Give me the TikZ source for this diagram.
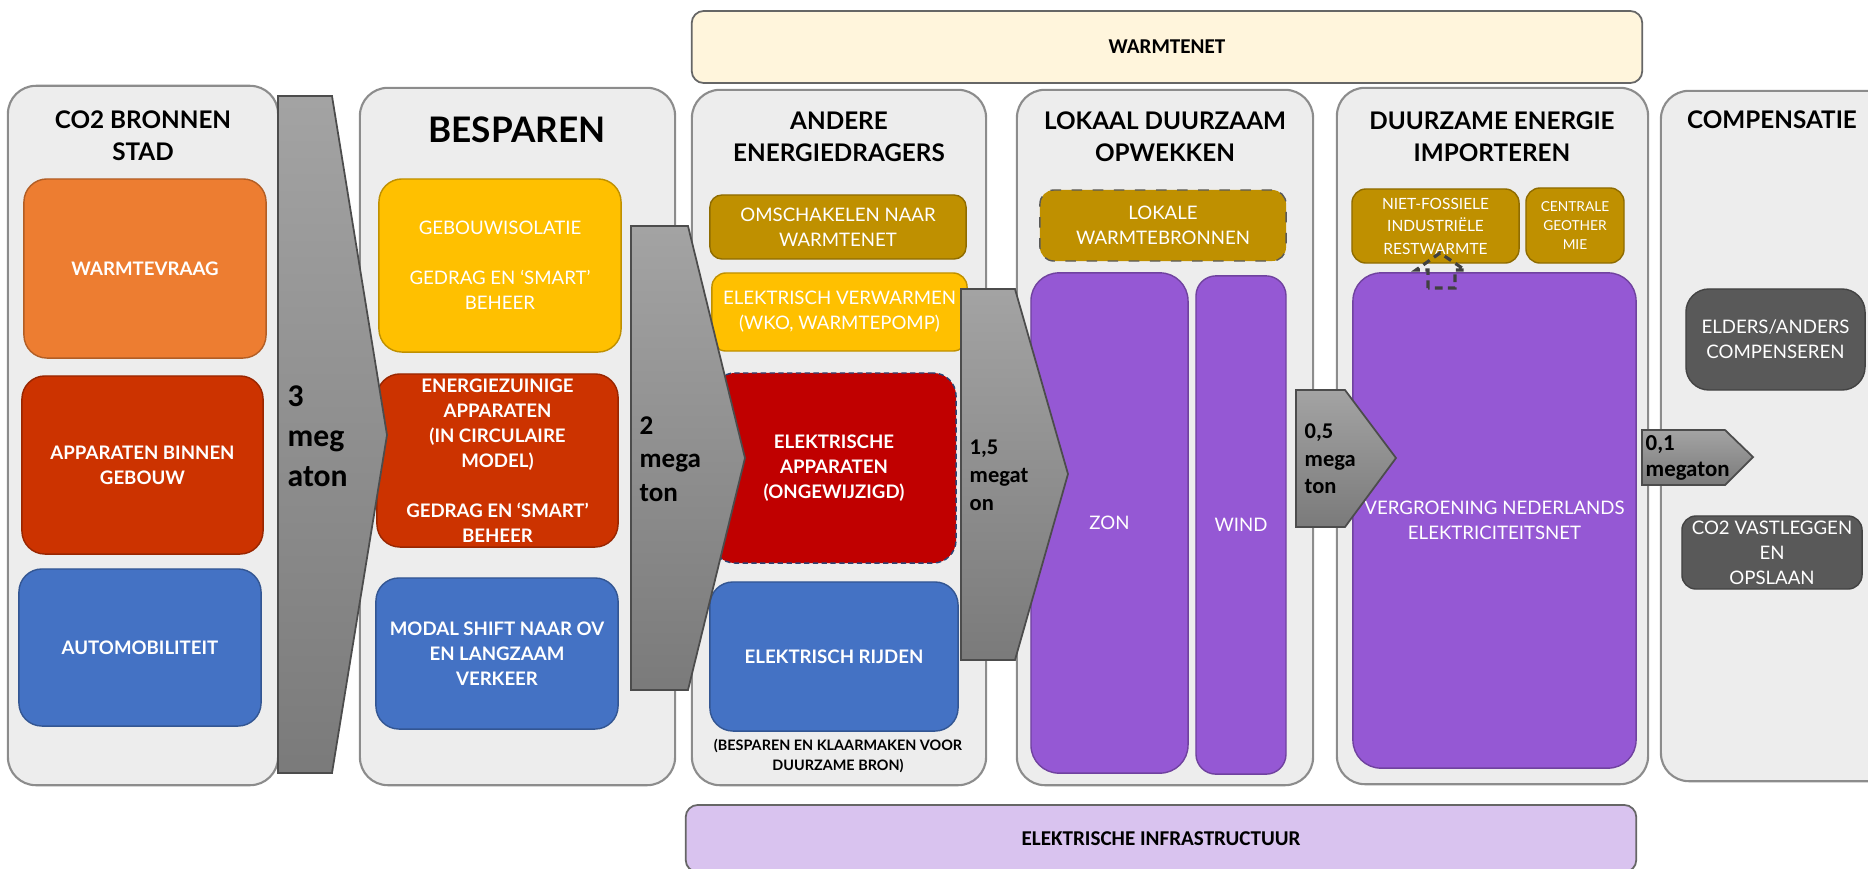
\documentclass[tikz,border=0pt]{standalone}
\usepackage{fontspec}
\setmainfont{Lato}
\newfontfamily\carlito{Carlito}

\definecolor{paneelgrijs}{HTML}{EDEDED}
\definecolor{randgrijs}{HTML}{8C8C8C}
\definecolor{oranje}{HTML}{ED7D31}
\definecolor{roodoranje}{HTML}{CC3300}
\definecolor{blauw}{HTML}{4472C4}
\definecolor{geel}{HTML}{FFC000}
\definecolor{goud}{HTML}{BF9000}
\definecolor{donkerrood}{HTML}{C00000}
\definecolor{paars}{HTML}{9558D4}
\definecolor{donkergrijs}{HTML}{595959}
\definecolor{creme}{HTML}{FFF5DC}
\definecolor{lila}{HTML}{D9C3EF}

\begin{document}
\begin{tikzpicture}[x=0.01cm,y=-0.01cm,
  paneel/.style={draw=randgrijs,fill=paneelgrijs,line width=0.6pt,rounded corners=0.28cm,inner sep=0pt},
  blok/.style={draw=#1!75!black,fill=#1,line width=0.4pt,rounded corners=0.23cm,inner sep=0pt,
    text=white,align=center,font=\fontsize{5.3}{7.1}\selectfont},
  vet/.style={font=\fontsize{5.3}{7.1}\selectfont\bfseries},
  titel/.style={align=center,inner sep=0pt,font=\fontsize{6.9}{9.1}\selectfont\bfseries},
  band/.style={draw=black!60,line width=0.5pt,rounded corners=0.12cm,inner sep=0pt,
    font=\carlito\fontsize{6}{7}\selectfont\bfseries},
  pijl/.style={draw=black!70,line width=0.5pt,top color=black!36,bottom color=black!52},
  pijllabel/.style={align=left,inner sep=0pt,anchor=west}]
  \useasboundingbox (0,0) rectangle (1868,869);
  \clip (0,0) rectangle (1868,869);

  % warmtenet en elektrische infrastructuur
  \node[band,fill=creme,minimum width=9.5cm,minimum height=0.72cm] (warmtenet) at (1167,47) {WARMTENET};
  \node[band,fill=lila,minimum width=9.5cm,minimum height=0.67cm] (infra) at (1161,838.5) {ELEKTRISCHE INFRASTRUCTUUR};

  % kolommen
  \node[paneel,minimum width=2.70cm,minimum height=6.99cm] (bronnen) at (143,435.5) {};
  \node[paneel,minimum width=3.15cm,minimum height=6.97cm] (besparen) at (517.5,436.5) {};
  \node[paneel,minimum width=2.94cm,minimum height=6.95cm] (dragers) at (839,437.5) {};
  \node[paneel,minimum width=2.96cm,minimum height=6.95cm] (opwekken) at (1165,437.5) {};
  \node[paneel,minimum width=3.11cm,minimum height=6.96cm] (importeren) at (1492.5,436) {};
  \node[paneel,minimum width=2.39cm,minimum height=6.90cm] (compensatie) at (1780.5,436) {};

  \node[titel] (t1) at (143,136) {CO2 BRONNEN\\STAD};
  \node[titel,font=\fontsize{10}{12}\selectfont\bfseries] (t2) at (517,130) {BESPAREN};
  \node[titel] (t3) at (839,137) {ANDERE\\ENERGIEDRAGERS};
  \node[titel] (t4) at (1165,137) {LOKAAL DUURZAAM\\OPWEKKEN};
  \node[titel] (t5) at (1492,137) {DUURZAME ENERGIE\\IMPORTEREN};
  \node[titel] (t6) at (1772,120) {COMPENSATIE};

  % CO2 bronnen
  \node[blok=oranje,vet,minimum width=2.42cm,minimum height=1.79cm] (warmtevraag) at (145,268.5) {WARMTEVRAAG};
  \node[blok=roodoranje,vet,minimum width=2.41cm,minimum height=1.78cm] (apparaten) at (142.5,465) {APPARATEN BINNEN\\GEBOUW};
  \node[blok=blauw,vet,minimum width=2.42cm,minimum height=1.57cm] (auto) at (140,647.5) {AUTOMOBILITEIT};

  % besparen
  \node[blok=geel,minimum width=2.42cm,minimum height=1.73cm] (isolatie) at (500,265.5) {GEBOUWISOLATIE\\[7.1pt]GEDRAG EN ‘SMART’\\BEHEER};
  \node[blok=roodoranje,vet,minimum width=2.41cm,minimum height=1.73cm] (zuinig) at (497.5,460.5) {ENERGIEZUINIGE\\APPARATEN\\(IN CIRCULAIRE\\MODEL)\\[7.1pt]GEDRAG EN ‘SMART’\\BEHEER};
  \node[blok=blauw,vet,minimum width=2.42cm,minimum height=1.51cm] (modal) at (497,653.5) {MODAL SHIFT NAAR OV\\EN LANGZAAM\\VERKEER};

  % andere energiedragers
  \node[blok=goud,rounded corners=0.12cm,minimum width=2.56cm,minimum height=0.64cm] (omschakelen) at (838,227) {OMSCHAKELEN NAAR\\WARMTENET};
  \node[blok=geel,rounded corners=0.14cm,minimum width=2.55cm,minimum height=0.78cm] (verwarmen) at (839.5,312) {ELEKTRISCH VERWARMEN\\(WKO, WARMTEPOMP)};
  \node[blok=donkerrood,vet,draw=blauw!60!black,dash pattern=on 1.5pt off 1pt,minimum width=2.44cm,minimum height=1.90cm] (elapparaten) at (834,468) {ELEKTRISCHE\\APPARATEN\\(ONGEWIJZIGD)};
  \node[blok=blauw,vet,minimum width=2.48cm,minimum height=1.49cm] (rijden) at (834,656.5) {ELEKTRISCH RIJDEN};
  \node[align=center,inner sep=0pt,font=\fontsize{4.1}{5.7}\selectfont\bfseries] (bron) at (838,756) {(BESPAREN EN KLAARMAKEN VOOR\\DUURZAME BRON)};

  % lokaal opwekken
  \node[blok=goud,draw=donkergrijs,dashed,rounded corners=0.14cm,minimum width=2.46cm,minimum height=0.71cm] (lokaal) at (1163,225.5) {LOKALE\\WARMTEBRONNEN};
  \node[blok=paars,rounded corners=0.28cm,minimum width=1.57cm,minimum height=5.00cm] (zon) at (1109.5,523) {ZON};
  \node[blok=paars,rounded corners=0.2cm,minimum width=0.90cm,minimum height=4.98cm] (wind) at (1241,525) {WIND};

  % importeren
  \node[blok=goud,rounded corners=0.14cm,font=\fontsize{4.4}{6.4}\selectfont,minimum width=1.67cm,minimum height=0.74cm] (restwarmte) at (1435.5,226) {NIET-FOSSIELE\\INDUSTRIËLE\\RESTWARMTE};
  \node[blok=goud,rounded corners=0.14cm,font=\fontsize{3.9}{5.5}\selectfont,minimum width=0.98cm,minimum height=0.75cm] (geothermie) at (1575,225.5) {CENTRALE\\GEOTHER\\MIE};
  \node[blok=paars,rounded corners=0.28cm,minimum width=2.83cm,minimum height=4.95cm] (vergroening) at (1494.5,520.5) {VERGROENING NEDERLANDS\\ELEKTRICITEITSNET};
  \draw[black!75,line width=0.9pt,dash pattern=on 2.2pt off 1.5pt,line join=miter]
    (1428,288) -- (1428,270) -- (1416,270) -- (1440,253) -- (1465,270) -- (1455,270) -- (1455,288) -- cycle;

  % compensatie
  \node[blok=donkergrijs,minimum width=1.79cm,minimum height=1.01cm] (elders) at (1775.5,339.5) {ELDERS/ANDERS\\COMPENSEREN};
  \node[blok=donkergrijs,rounded corners=0.14cm,minimum width=1.80cm,minimum height=0.73cm] (vastleggen) at (1772,552.5) {CO2 VASTLEGGEN\\EN\\OPSLAAN};

  % pijlen met megatonnen
  \path[pijl] (278,96) -- (332,96) -- (387,435) -- (332,773) -- (278,773) -- cycle;
  \path[pijl] (631,226) -- (688,226) -- (745,458) -- (688,690) -- (631,690) -- cycle;
  \path[pijl] (961,289) -- (1015,289) -- (1068,474) -- (1015,660) -- (961,660) -- cycle;
  \path[pijl] (1296,390) -- (1345,390) -- (1396,458) -- (1345,527) -- (1296,527) -- cycle;
  \path[pijl] (1642,430) -- (1725,430) -- (1753,457) -- (1725,485) -- (1642,485) -- cycle;

  \node[pijllabel,font=\carlito\fontsize{9}{11.3}\selectfont\bfseries] (m3) at (287,436) {3\\meg\\aton};
  \node[pijllabel,font=\carlito\fontsize{7.7}{9.6}\selectfont\bfseries] (m2) at (639,459) {2\\mega\\ton};
  \node[pijllabel,font=\carlito\fontsize{6.4}{8}\selectfont\bfseries] (m15) at (969,475) {1,5\\megat\\on};
  \node[pijllabel,font=\carlito\fontsize{6.4}{7.8}\selectfont\bfseries] (m05) at (1304,459) {0,5\\mega\\ton};
  \node[pijllabel,font=\carlito\fontsize{6.5}{7.4}\selectfont\bfseries] (m01) at (1645,458) {0,1\\megaton};
\end{tikzpicture}
\end{document}
